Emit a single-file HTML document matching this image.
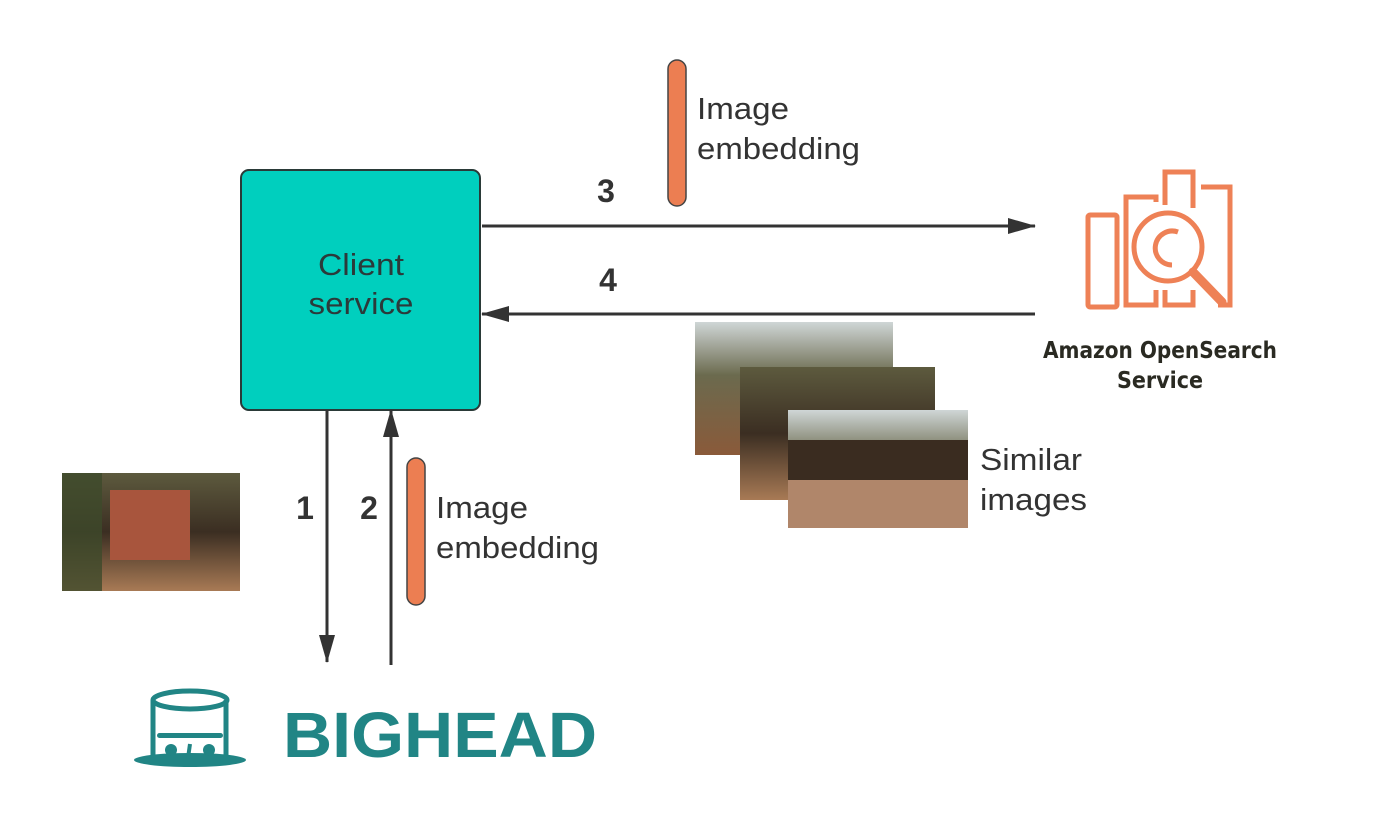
<!DOCTYPE html>
<html><head><meta charset="utf-8"><style>body{margin:0;background:#fff}svg{display:block}</style></head>
<body>
<svg width="1400" height="838" viewBox="0 0 1400 838" xmlns="http://www.w3.org/2000/svg" font-family="Liberation Sans, sans-serif">
<defs>
<marker id="ah2" markerWidth="28" markerHeight="16" refX="27" refY="8" orient="auto" markerUnits="userSpaceOnUse"><path d="M0,0 L28,8 L0,16 z" fill="#333"/></marker>
<linearGradient id="sky" x1="0" y1="0" x2="0" y2="1"><stop offset="0" stop-color="#cfd6d6"/><stop offset="0.4" stop-color="#6b6a4e"/><stop offset="1" stop-color="#8a5a3a"/></linearGradient>
<linearGradient id="ph" x1="0" y1="0" x2="0" y2="1"><stop offset="0" stop-color="#5d5a3e"/><stop offset="0.5" stop-color="#3b2e22"/><stop offset="1" stop-color="#a87a55"/></linearGradient>
</defs>
<rect x="241" y="170" width="239" height="240" rx="8" fill="#00CFBE" stroke="#2a3a38" stroke-width="2"/>
<text x="361" y="275" font-size="31" text-anchor="middle" fill="#2b3a3a" textLength="86" lengthAdjust="spacingAndGlyphs">Client</text>
<text x="361" y="314" font-size="31" text-anchor="middle" fill="#2b3a3a" textLength="105" lengthAdjust="spacingAndGlyphs">service</text>
<line x1="482" y1="226" x2="1035" y2="226" stroke="#333" stroke-width="3" marker-end="url(#ah2)"/>
<line x1="1035" y1="314" x2="482" y2="314" stroke="#333" stroke-width="3" marker-end="url(#ah2)"/>
<line x1="327" y1="410" x2="327" y2="662" stroke="#333" stroke-width="3" marker-end="url(#ah2)"/>
<line x1="391" y1="665" x2="391" y2="410" stroke="#333" stroke-width="3" marker-end="url(#ah2)"/>
<text x="606" y="202" font-size="32" font-weight="bold" text-anchor="middle" fill="#333">3</text>
<text x="608" y="291" font-size="32" font-weight="bold" text-anchor="middle" fill="#333">4</text>
<text x="305" y="519" font-size="32" font-weight="bold" text-anchor="middle" fill="#333">1</text>
<text x="369" y="519" font-size="32" font-weight="bold" text-anchor="middle" fill="#333">2</text>
<rect x="668" y="60" width="18" height="146" rx="9" fill="#EC7E52" stroke="#444" stroke-width="1.5"/>
<text x="697" y="119" font-size="31" fill="#333" textLength="92" lengthAdjust="spacingAndGlyphs">Image</text>
<text x="697" y="159" font-size="31" fill="#333" textLength="163" lengthAdjust="spacingAndGlyphs">embedding</text>
<rect x="407" y="458" width="18" height="147" rx="9" fill="#EC7E52" stroke="#444" stroke-width="1.5"/>
<text x="436" y="518" font-size="31" fill="#333" textLength="92" lengthAdjust="spacingAndGlyphs">Image</text>
<text x="436" y="558" font-size="31" fill="#333" textLength="163" lengthAdjust="spacingAndGlyphs">embedding</text>
<rect x="62" y="473" width="178" height="118" fill="url(#ph)"/>
<rect x="110" y="490" width="80" height="70" fill="#a8553d"/>
<rect x="62" y="473" width="40" height="118" fill="#3d4a2a" opacity="0.8"/>
<rect x="695" y="322" width="198" height="133" fill="url(#sky)"/>
<rect x="740" y="367" width="195" height="133" fill="url(#ph)"/>
<rect x="788" y="410" width="180" height="118" fill="url(#sky)"/>
<rect x="788" y="440" width="180" height="40" fill="#3a2c20"/>
<rect x="788" y="480" width="180" height="48" fill="#b0866a"/>
<text x="980" y="470" font-size="31" fill="#333" textLength="102" lengthAdjust="spacingAndGlyphs">Similar</text>
<text x="980" y="510" font-size="31" fill="#333" textLength="107" lengthAdjust="spacingAndGlyphs">images</text>
<g fill="none" stroke="#EE8156" stroke-width="5">
<rect x="1088" y="215" width="29" height="92" rx="2"/>
<path d="M1140,197 H1126 V305 H1156 V290 M1156,202 V197 H1140"/>
<path d="M1165,205 V172 H1193 V208 M1193,290 V305 H1165 V290"/>
<path d="M1201,187 H1230 V305 H1218"/>
<circle cx="1168" cy="247" r="34"/>
<path d="M1178,232 a17,17 0 1 0 -6,33"/>
<line x1="1193" y1="272" x2="1222" y2="302" stroke-width="9" stroke-linecap="round"/>
</g>
<text x="1160" y="358" font-size="23" font-weight="bold" text-anchor="middle" fill="#2a2a22" font-family="DejaVu Sans Condensed, Liberation Sans Narrow, sans-serif" textLength="234" lengthAdjust="spacingAndGlyphs">Amazon OpenSearch</text>
<text x="1160" y="388" font-size="23" font-weight="bold" text-anchor="middle" fill="#2a2a22" font-family="DejaVu Sans Condensed, Liberation Sans Narrow, sans-serif">Service</text>
<g fill="none" stroke="#218585" stroke-width="5">
<path d="M153,700 V758 M226,700 V758"/>
<ellipse cx="190" cy="700" rx="37" ry="9"/>
</g>
<ellipse cx="190" cy="760" rx="56" ry="7" fill="#218585"/>
<rect x="157" y="733" width="66" height="5" rx="2.5" fill="#218585"/>
<circle cx="171" cy="750" r="6" fill="#218585"/>
<circle cx="209" cy="750" r="6" fill="#218585"/>
<line x1="190" y1="744" x2="188" y2="758" stroke="#218585" stroke-width="4"/>
<text x="283" y="757" font-size="64" font-weight="bold" fill="#218585" textLength="314" lengthAdjust="spacingAndGlyphs">BIGHEAD</text>
</svg>
</body></html>
